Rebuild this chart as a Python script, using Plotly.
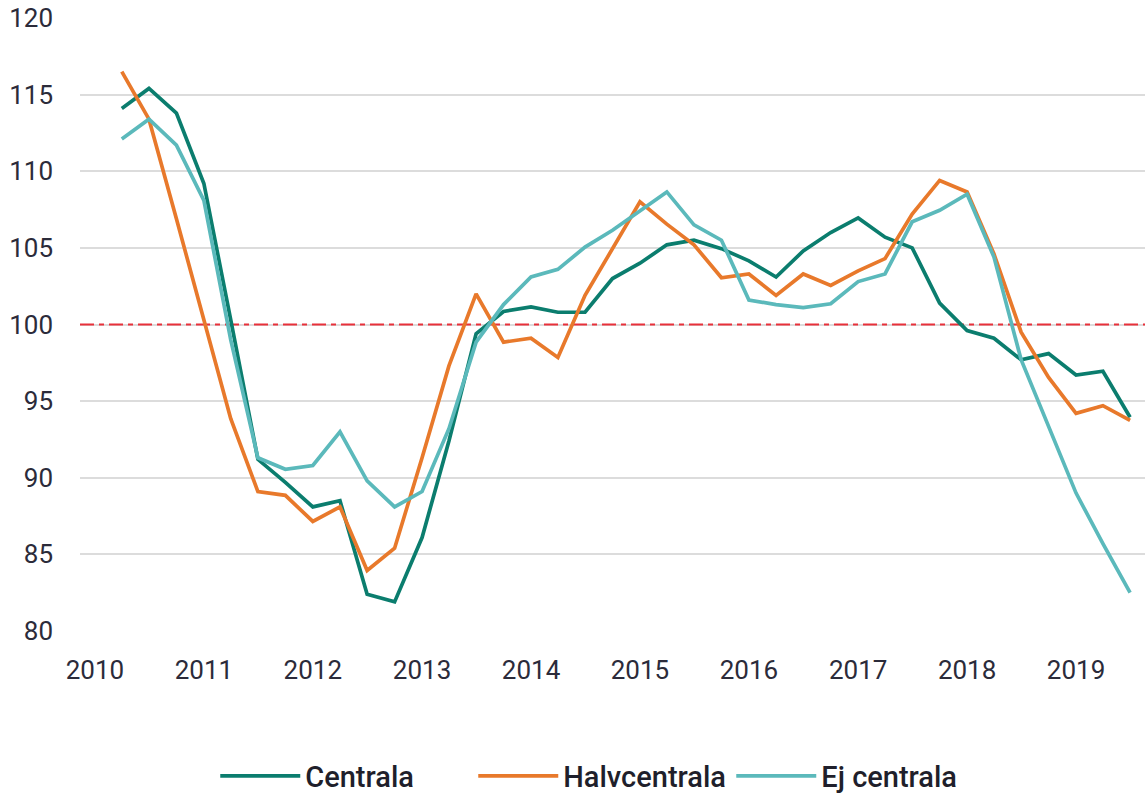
import plotly.graph_objects as go

# Quarterly observations, 2010 Q2 .. 2019 Q3
quarters = [f"{y}-{m:02d}-01" for y in range(2010, 2020) for m in (1, 4, 7, 10)][1:-1]

centrala = [114.1, 115.4, 113.8, 109.2, 100.3, 91.2, 89.7, 88.1, 88.5, 82.4,
            81.9, 86.1, 92.4, 99.4, 100.85, 101.15, 100.8, 100.8, 103.0, 104.0,
            105.2, 105.5, 104.95, 104.15, 103.1, 104.8, 106.0, 106.95, 105.7, 105.0,
            101.4, 99.6, 99.1, 97.7, 98.1, 96.7, 96.95, 93.95]

halvcentrala = [116.5, 113.4, 106.9, 100.3, 93.85, 89.1, 88.85, 87.15, 88.1, 83.95,
                85.4, 91.3, 97.3, 102.0, 98.85, 99.1, 97.85, 101.9, 104.9, 108.0,
                106.55, 105.2, 103.05, 103.3, 101.9, 103.3, 102.55, 103.5, 104.3, 107.2,
                109.4, 108.65, 104.6, 99.5, 96.55, 94.2, 94.7, 93.75]

ej_centrala = [112.1, 113.4, 111.7, 108.1, 99.0, 91.3, 90.55, 90.8, 93.0, 89.8,
               88.1, 89.1, 93.2, 98.85, 101.3, 103.1, 103.6, 105.05, 106.15, 107.45,
               108.65, 106.5, 105.5, 101.6, 101.3, 101.1, 101.35, 102.8, 103.3, 106.7,
               107.45, 108.5, 104.4, 97.7, 93.3, 89.0, 85.7, 82.5]

series_names = ["Centrala", "Halvcentrala", "Ej centrala"]
series_colors = ["#0b7d6e", "#e8792b", "#5bb9bb"]
reference_level = 100
x_range = ["2009-11-12", "2019-08-20"]
y_ticks = [80, 85, 90, 95, 100, 105, 110, 115, 120]

fig = go.Figure()

# Reference line at index 100 (drawn first, under the series)
fig.add_trace(go.Scatter(x=x_range, y=[reference_level, reference_level], mode="lines",
                         showlegend=False, hoverinfo="skip",
                         line=dict(color="#e8303a", width=2, dash="14px,5px,5px,5px")))

for name, vals, col in zip(series_names, [centrala, halvcentrala, ej_centrala], series_colors):
    fig.add_trace(go.Scatter(x=quarters, y=vals, mode="lines", name=name,
                             line=dict(color=col, width=3.7)))

tick_font = dict(family="Roboto", size=26, color="#2b2b3a")

fig.update_layout(
    width=1145, height=793,
    margin=dict(l=80, r=0, t=17.5, b=162.3),
    paper_bgcolor="white", plot_bgcolor="white",
    showlegend=True,
    legend=dict(orientation="h", xref="container", yref="container",
                x=0.188, xanchor="left", y=0.0214, yanchor="middle",
                font=dict(family="Roboto", size=29, color="#1f1f2b", weight=500),
                itemwidth=80, entrywidth=163, entrywidthmode="pixels",
                bgcolor="rgba(0,0,0,0)"),
    xaxis=dict(type="date", range=x_range,
               tickformat="%Y", dtick="M12", tick0="2010-01-01",
               showgrid=False, zeroline=False, showline=False, ticks="",
               tickfont=tick_font, ticklabelstandoff=21, automargin=False),
    yaxis=dict(range=[80, 120], tickvals=y_ticks, showgrid=True,
               gridcolor="#dcdcdc", gridwidth=1.5, zeroline=False, showline=False,
               ticks="", tickfont=tick_font, ticklabelstandoff=26, automargin=False),
)

# remove the browser's default 8px page margin so the figure fills the window
fig.write_html("out.html", config={"displayModeBar": False},
               post_script="document.body.style.margin='0';")
